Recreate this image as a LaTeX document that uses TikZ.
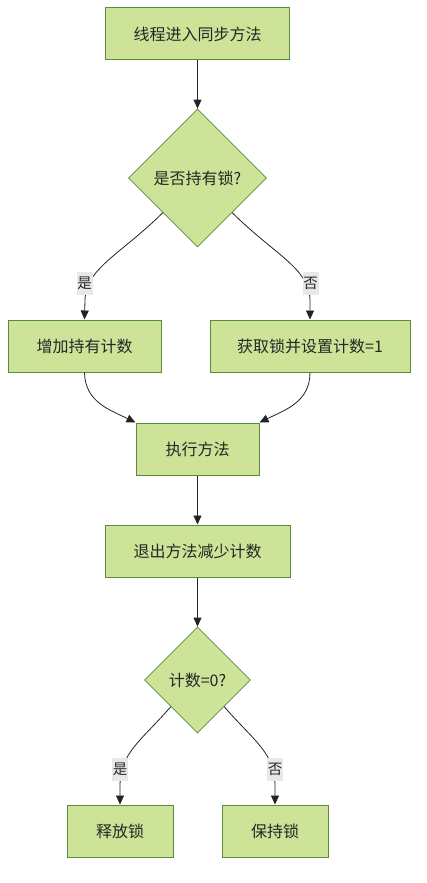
\documentclass[tikz,border=0pt]{standalone}
\usepackage{fontspec}
\setmainfont{Noto Sans CJK SC}
\usetikzlibrary{shapes.geometric,arrows.meta}
\definecolor{nodefill}{RGB}{205,228,152}
\definecolor{nodedraw}{RGB}{90,138,60}
\definecolor{edgecol}{RGB}{35,35,35}
\definecolor{labelbg}{RGB}{232,232,232}
\tikzset{
  procbox/.style={draw=nodedraw, fill=nodefill, line width=1pt, inner sep=0pt,
    font=\fontsize{16}{18}\selectfont, text=black!85},
  decbox/.style={diamond, draw=nodedraw, fill=nodefill, line width=0.8pt, inner sep=0pt, aspect=1,
    font=\fontsize{16}{18}\selectfont, text=black!85},
  elabel/.style={fill=labelbg, inner sep=0pt, minimum width=16pt, minimum height=23pt,
    font=\fontsize{14.5}{16}\selectfont, text=black!85},
  conn/.style={draw=edgecol, line width=0.8pt, -{Triangle[length=9pt,width=8pt]}},
}
\begin{document}
\begin{tikzpicture}[x=1pt,y=-1pt]
\useasboundingbox (0,0) rectangle (427,883);
% nodes
\node[procbox, minimum width=184pt, minimum height=52pt] (A) at (197.5,34) {线程进入同步方法};
\node[decbox, minimum width=138pt, minimum height=138pt] (B) at (197.5,178) {是否持有锁?};
\node[procbox, minimum width=153pt, minimum height=52pt] (C) at (84.5,346) {增加持有计数};
\node[procbox, minimum width=200pt, minimum height=52pt] (D) at (310,346) {获取锁并设置计数=1};
\node[procbox, minimum width=123pt, minimum height=52pt] (E) at (197.5,449) {执行方法};
\node[procbox, minimum width=185pt, minimum height=52pt] (F) at (197.5,551) {退出方法减少计数};
\node[decbox, minimum width=106pt, minimum height=106pt] (G) at (197.5,680) {计数=0?};
\node[procbox, minimum width=106pt, minimum height=52pt] (H) at (120,831) {释放锁};
\node[procbox, minimum width=106pt, minimum height=52pt] (I) at (275,831) {保持锁};
% connectors
\draw[conn] (A.south) -- (B.north);
\draw[conn] (B.south west) .. controls (120,255) and (86,268) .. (85,300) -- (C.north);
\draw[conn] (B.south east) .. controls (275,255) and (309,268) .. (310,300) -- (D.north);
\draw[conn] (C.south) .. controls (85,402) and (110,410) .. (E.north west);
\draw[conn] (D.south) .. controls (310,402) and (285,410) .. (E.north east);
\draw[conn] (E.south) -- (F.north);
\draw[conn] (F.south) -- (G.north);
\draw[conn] (G.south west) .. controls (140,742) and (121,752) .. (120,785) -- (H.north);
\draw[conn] (G.south east) .. controls (255,742) and (274,752) .. (275,785) -- (I.north);
% edge labels
\node[elabel] (l1) at (84.5,283.5) {是};
\node[elabel] (l2) at (310.5,283.5) {否};
\node[elabel] (l3) at (120,769) {是};
\node[elabel] (l4) at (275,769) {否};
\end{tikzpicture}
\end{document}
